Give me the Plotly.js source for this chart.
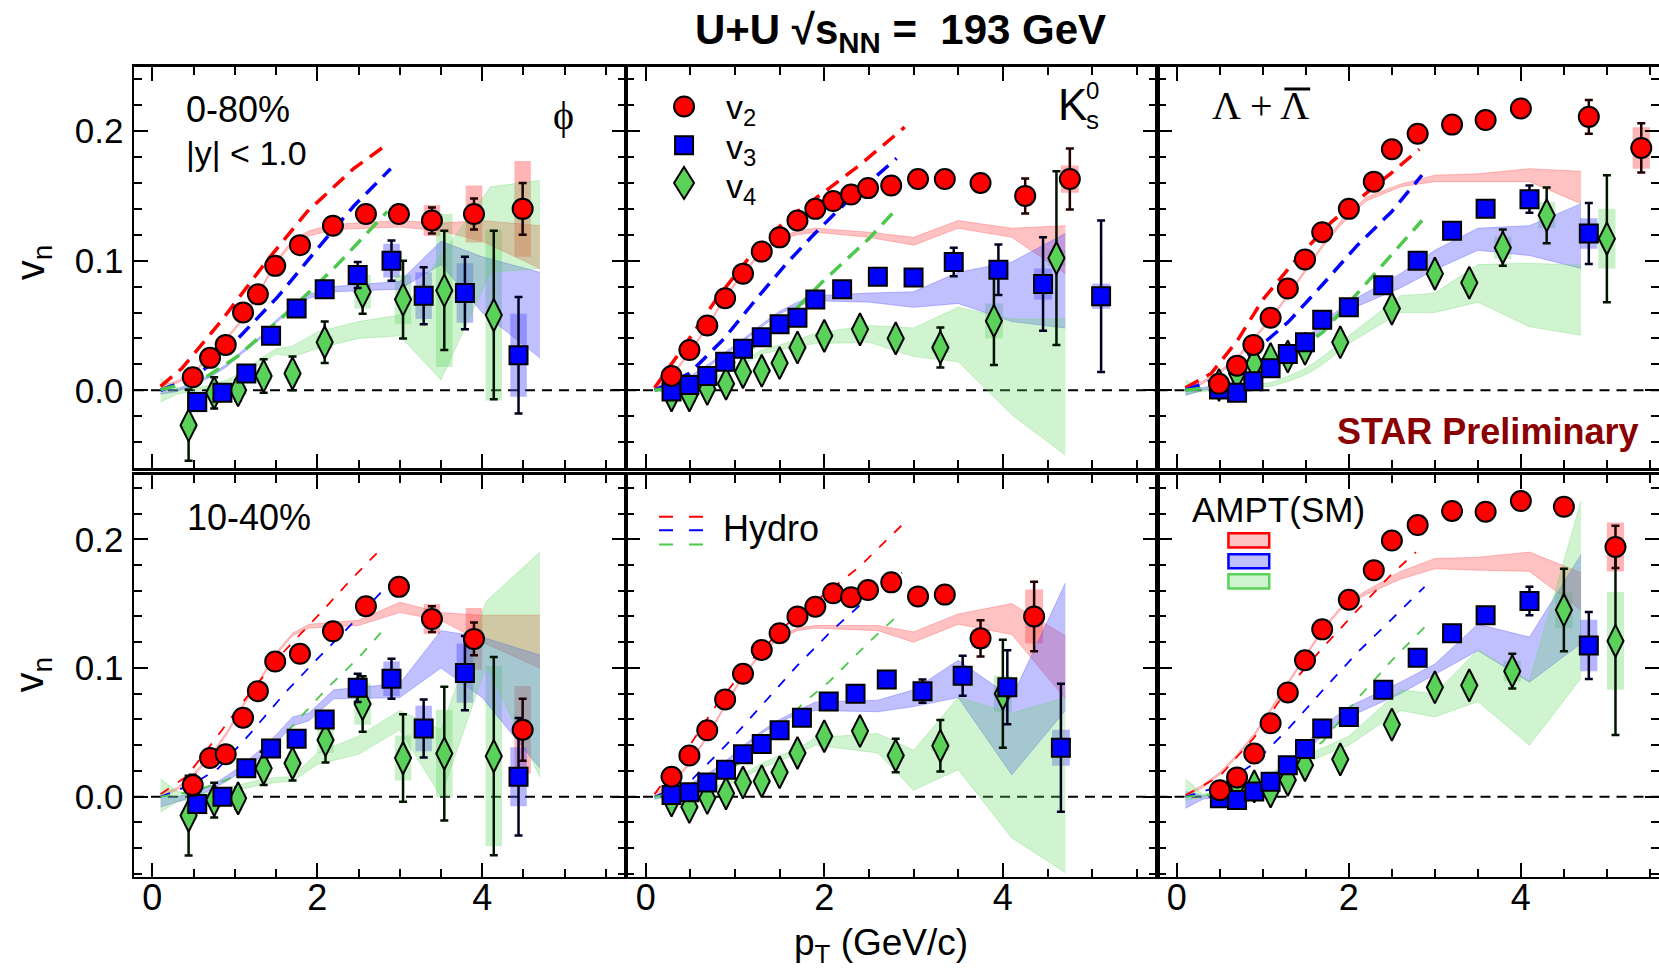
<!DOCTYPE html>
<html><head><meta charset="utf-8">
<script src="https://cdn.plot.ly/plotly-3.0.1.min.js"></script>
<style>html,body{margin:0;padding:0;background:#fff}#chart{width:1659px;height:977px}</style>
</head><body><div id="chart"></div>
<script>
// ================= DATA =================
// ---- phi, 0-80% ----
const phi080_v2_pt   = [0.49, 0.70, 0.89, 1.10, 1.28, 1.49, 1.79, 2.19, 2.59, 2.99, 3.39, 3.90, 4.49];
const phi080_v2      = [0.010, 0.025, 0.035, 0.060, 0.074, 0.096, 0.112, 0.127, 0.136, 0.136, 0.131, 0.136, 0.140];
const phi080_v2_stat = [0.003, 0.003, 0.003, 0.003, 0.003, 0.003, 0.003, 0.003, 0.004, 0.004, 0.010, 0.012, 0.020];
const phi080_v2_sys  = [0.006, 0.002, 0.002, 0.002, 0.002, 0.002, 0.002, 0.003, 0.003, 0.004, 0.012, 0.022, 0.037];
const phi080_v3_pt   = [0.545, 0.85, 1.14, 1.44, 1.75, 2.09, 2.49, 2.90, 3.29, 3.79, 4.44];
const phi080_v3      = [-0.009, -0.002, 0.013, 0.042, 0.063, 0.078, 0.089, 0.100, 0.073, 0.075, 0.027];
const phi080_v3_stat = [0.004, 0.003, 0.003, 0.003, 0.003, 0.004, 0.010, 0.0155, 0.022, 0.028, 0.045];
const phi080_v3_sys  = [0.008, 0.003, 0.003, 0.003, 0.003, 0.003, 0.006, 0.013, 0.018, 0.023, 0.032];
const phi080_v4_pt   = [0.44, 0.75, 1.04, 1.35, 1.70, 2.09, 2.55, 3.04, 3.54, 4.14];
const phi080_v4      = [-0.027, -0.002, 0.000, 0.011, 0.013, 0.037, 0.076, 0.070, 0.077, 0.058];
const phi080_v4_stat = [0.0275, 0.012, 0.008, 0.013, 0.013, 0.016, 0.017, 0.030, 0.046, 0.065];
const phi080_v4_sys  = [0.004, 0.004, 0.004, 0.004, 0.004, 0.005, 0.013, 0.019, 0.059, 0.066];
const phi080_hyd_v2_pt = [0.1, 0.36, 0.83, 1.39, 1.88, 2.44, 2.85];
const phi080_hyd_v2    = [0.003, 0.017, 0.053, 0.100, 0.138, 0.171, 0.190];
const phi080_hyd_v3_pt = [0.1, 0.5, 0.83, 1.23, 1.52, 1.96, 2.44, 2.89];
const phi080_hyd_v3    = [0.0, 0.010, 0.026, 0.053, 0.072, 0.106, 0.142, 0.171];
const phi080_hyd_v4_pt = [0.1, 0.6, 1.03, 1.64, 2.20, 2.85];
const phi080_hyd_v4    = [0.0005, 0.008, 0.026, 0.060, 0.094, 0.138];
const phi080_ampt_v2_pt = [0.1, 0.3, 0.5, 0.7, 0.9, 1.1, 1.3, 1.5, 1.7, 1.9, 2.2, 3.0, 3.5, 4.0, 4.7];
const phi080_ampt_v2_lo = [0.0018, 0.0055, 0.012, 0.026, 0.039, 0.054, 0.075, 0.098, 0.113, 0.119, 0.124, 0.126, 0.123, 0.115, 0.094];
const phi080_ampt_v2_hi = [0.0034, 0.0073, 0.014, 0.028, 0.041, 0.056, 0.077, 0.100, 0.116, 0.123, 0.128, 0.131, 0.129, 0.131, 0.127];
const phi080_ampt_v3_pt = [0.1, 0.3, 0.5, 0.7, 0.9, 1.1, 1.3, 1.5, 1.7, 1.9, 2.2, 3.0, 3.5, 4.0, 4.7];
const phi080_ampt_v3_lo = [-0.003, -0.001, 0.004, 0.010, 0.018, 0.029, 0.039, 0.052, 0.063, 0.071, 0.076, 0.078, 0.097, 0.060, 0.025];
const phi080_ampt_v3_hi = [0.000, 0.001, 0.006, 0.012, 0.020, 0.031, 0.041, 0.054, 0.065, 0.074, 0.080, 0.084, 0.115, 0.103, 0.091];
const phi080_ampt_v4_pt = [0.1, 0.3, 0.5, 0.7, 0.9, 1.1, 1.3, 1.5, 1.7, 2.0, 2.5, 3.0, 3.5, 4.1, 4.7];
const phi080_ampt_v4_lo = [-0.009, -0.003, -0.001, 0.002, 0.006, 0.010, 0.020, 0.028, 0.026, 0.032, 0.040, 0.042, 0.008, 0.091, 0.094];
const phi080_ampt_v4_hi = [0.009, 0.002, 0.001, 0.004, 0.008, 0.014, 0.024, 0.032, 0.034, 0.045, 0.053, 0.058, 0.104, 0.157, 0.162];

// ---- K0s, 0-80% ----
const k0s080_v2_pt   = [0.29, 0.49, 0.69, 0.89, 1.09, 1.30, 1.50, 1.70, 1.90, 2.10, 2.30, 2.49, 2.75, 3.05, 3.35, 3.75, 4.25, 4.75];
const k0s080_v2      = [0.011, 0.031, 0.050, 0.071, 0.090, 0.107, 0.118, 0.131, 0.140, 0.146, 0.151, 0.156, 0.158, 0.163, 0.163, 0.160, 0.150, 0.163];
const k0s080_v2_stat = [0.002, 0.002, 0.002, 0.002, 0.002, 0.002, 0.002, 0.002, 0.002, 0.002, 0.002, 0.002, 0.002, 0.002, 0.002, 0.003, 0.0135, 0.0235];
const k0s080_v2_sys  = [0.002, 0.002, 0.002, 0.002, 0.002, 0.002, 0.002, 0.002, 0.002, 0.002, 0.002, 0.002, 0.002, 0.002, 0.002, 0.003, 0.004, 0.0105];
const k0s080_v3_pt   = [0.29, 0.49, 0.69, 0.89, 1.09, 1.30, 1.50, 1.70, 1.90, 2.20, 2.60, 3.00, 3.45, 3.95, 4.45, 5.10];
const k0s080_v3      = [-0.001, 0.004, 0.011, 0.022, 0.032, 0.041, 0.051, 0.056, 0.070, 0.078, 0.0875, 0.087, 0.099, 0.093, 0.082, 0.0726];
const k0s080_v3_stat = [0.002, 0.002, 0.002, 0.002, 0.002, 0.002, 0.002, 0.002, 0.002, 0.002, 0.002, 0.003, 0.011, 0.0195, 0.036, 0.0585];
const k0s080_v3_sys  = [0.002, 0.002, 0.002, 0.002, 0.002, 0.002, 0.002, 0.002, 0.002, 0.002, 0.002, 0.002, 0.003, 0.004, 0.012, 0.0097];
const k0s080_v4_pt   = [0.29, 0.49, 0.69, 0.90, 1.09, 1.30, 1.50, 1.70, 2.00, 2.40, 2.80, 3.30, 3.90, 4.60];
const k0s080_v4      = [-0.004, -0.004, 0.001, 0.005, 0.014, 0.015, 0.021, 0.033, 0.042, 0.047, 0.040, 0.033, 0.0535, 0.102];
const k0s080_v4_stat = [0.003, 0.003, 0.003, 0.003, 0.003, 0.003, 0.003, 0.003, 0.003, 0.003, 0.004, 0.0155, 0.034, 0.067];
const k0s080_v4_sys  = [0.002, 0.002, 0.002, 0.002, 0.002, 0.002, 0.002, 0.002, 0.002, 0.002, 0.002, 0.004, 0.0135, 0.006];
const k0s080_hyd_v2_pt = [0.1, 0.4, 0.8, 1.2, 1.6, 2.0, 2.4, 2.9];
const k0s080_hyd_v2    = [0.002, 0.031, 0.071, 0.106, 0.133, 0.153, 0.174, 0.203];
const k0s080_hyd_v3_pt = [0.1, 0.49, 0.88, 1.27, 1.58, 1.88, 2.23, 2.81];
const k0s080_hyd_v3    = [0.0, 0.013, 0.040, 0.073, 0.098, 0.120, 0.144, 0.179];
const k0s080_hyd_v4_pt = [0.1, 0.5, 1.0, 1.5, 2.0, 2.5, 2.81];
const k0s080_hyd_v4    = [0.0, 0.004, 0.022, 0.050, 0.085, 0.117, 0.140];
const k0s080_ampt_pt    = [0.1, 0.3, 0.5, 0.7, 0.9, 1.1, 1.3, 1.5, 1.7, 1.9, 2.5, 3.0, 3.5, 4.1, 4.7];
const k0s080_ampt_v2_lo = [0.0005, 0.011, 0.029, 0.049, 0.072, 0.090, 0.106, 0.116, 0.120, 0.122, 0.118, 0.112, 0.125, 0.118, 0.090];
const k0s080_ampt_v2_hi = [0.002, 0.013, 0.031, 0.051, 0.074, 0.092, 0.108, 0.118, 0.123, 0.125, 0.122, 0.118, 0.131, 0.125, 0.127];
const k0s080_ampt_v3_lo = [-0.001, 0.002, 0.009, 0.018, 0.028, 0.038, 0.049, 0.059, 0.065, 0.069, 0.068, 0.064, 0.067, 0.053, 0.048];
const k0s080_ampt_v3_hi = [0.001, 0.004, 0.011, 0.020, 0.030, 0.040, 0.051, 0.061, 0.068, 0.073, 0.075, 0.076, 0.091, 0.099, 0.121];
const k0s080_ampt_v4_lo = [-0.001, 0.000, 0.002, 0.006, 0.012, 0.020, 0.028, 0.031, 0.034, 0.036, 0.037, 0.026, 0.022, -0.019, -0.050];
const k0s080_ampt_v4_hi = [0.001, 0.002, 0.004, 0.008, 0.014, 0.023, 0.031, 0.035, 0.039, 0.044, 0.050, 0.048, 0.064, 0.055, 0.055];

// ---- Lambda + anti-Lambda, 0-80% ----
const lam080_v2_pt   = [0.49, 0.70, 0.89, 1.09, 1.29, 1.49, 1.69, 2.00, 2.29, 2.50, 2.80, 3.20, 3.59, 4.00, 4.79, 5.40];
const lam080_v2      = [0.005, 0.019, 0.035, 0.056, 0.0785, 0.101, 0.122, 0.140, 0.161, 0.186, 0.198, 0.205, 0.2085, 0.2175, 0.211, 0.187];
const lam080_v2_stat = [0.002, 0.002, 0.002, 0.002, 0.002, 0.002, 0.002, 0.002, 0.002, 0.002, 0.002, 0.002, 0.002, 0.002, 0.013, 0.019];
const lam080_v2_sys  = [0.002, 0.002, 0.002, 0.002, 0.002, 0.002, 0.002, 0.002, 0.002, 0.002, 0.002, 0.002, 0.002, 0.002, 0.006, 0.016];
const lam080_v3_pt   = [0.49, 0.70, 0.89, 1.09, 1.29, 1.49, 1.69, 2.00, 2.40, 2.80, 3.20, 3.59, 4.10, 4.79];
const lam080_v3      = [0.0005, -0.002, 0.007, 0.017, 0.028, 0.037, 0.0545, 0.064, 0.081, 0.100, 0.123, 0.140, 0.1475, 0.121];
const lam080_v3_stat = [0.002, 0.002, 0.002, 0.002, 0.002, 0.002, 0.002, 0.002, 0.002, 0.002, 0.002, 0.003, 0.0105, 0.0235];
const lam080_v3_sys  = [0.002, 0.002, 0.002, 0.002, 0.002, 0.002, 0.002, 0.002, 0.002, 0.002, 0.002, 0.002, 0.004, 0.0117];
const lam080_v4_pt   = [0.49, 0.70, 0.90, 1.09, 1.29, 1.49, 1.90, 2.50, 3.00, 3.40, 3.79, 4.30, 5.00];
const lam080_v4      = [0.004, 0.013, 0.0206, 0.024, 0.026, 0.032, 0.037, 0.063, 0.090, 0.083, 0.110, 0.135, 0.117];
const lam080_v4_stat = [0.003, 0.003, 0.003, 0.003, 0.003, 0.003, 0.003, 0.003, 0.003, 0.003, 0.014, 0.0215, 0.049];
const lam080_v4_sys  = [0.002, 0.002, 0.002, 0.002, 0.002, 0.002, 0.002, 0.002, 0.002, 0.002, 0.0086, 0.010, 0.023];
const lam080_hyd_v2_pt = [0.1, 0.4, 0.7, 1.0, 1.4, 1.8, 2.2, 2.5, 2.82];
const lam080_hyd_v2    = [0.002, 0.013, 0.038, 0.070, 0.102, 0.130, 0.152, 0.168, 0.186];
const lam080_hyd_v3_pt = [0.1, 0.5, 0.9, 1.3, 1.7, 2.1, 2.5, 2.85];
const lam080_hyd_v3    = [0.0, 0.010, 0.030, 0.053, 0.082, 0.112, 0.138, 0.166];
const lam080_hyd_v4_pt = [0.1, 0.5, 0.9, 1.3, 1.7, 2.1, 2.5, 2.85];
const lam080_hyd_v4    = [0.0, 0.003, 0.012, 0.025, 0.045, 0.075, 0.105, 0.131];
const lam080_ampt_v2_pt = [0.1, 0.3, 0.5, 0.7, 0.9, 1.1, 1.3, 1.5, 1.7, 1.9, 2.2, 2.6, 3.0, 3.5, 4.1, 4.7];
const lam080_ampt_v2_lo = [0.000, 0.005, 0.013, 0.024, 0.039, 0.055, 0.073, 0.092, 0.111, 0.127, 0.146, 0.157, 0.161, 0.161, 0.161, 0.144];
const lam080_ampt_v2_hi = [0.002, 0.007, 0.015, 0.026, 0.041, 0.057, 0.075, 0.094, 0.113, 0.130, 0.149, 0.159, 0.166, 0.167, 0.171, 0.169];
const lam080_ampt_pt    = [0.1, 0.3, 0.5, 0.7, 0.9, 1.1, 1.3, 1.5, 1.7, 2.0, 2.6, 3.0, 3.5, 4.1, 4.7];
const lam080_ampt_v3_lo = [-0.004, 0.000, 0.002, 0.006, 0.011, 0.017, 0.025, 0.034, 0.048, 0.062, 0.079, 0.093, 0.108, 0.104, 0.094];
const lam080_ampt_v3_hi = [0.002, 0.002, 0.004, 0.008, 0.013, 0.020, 0.029, 0.040, 0.053, 0.068, 0.090, 0.108, 0.125, 0.127, 0.144];
const lam080_ampt_v4_lo = [-0.003, -0.001, 0.000, 0.001, 0.002, 0.003, 0.007, 0.012, 0.020, 0.036, 0.060, 0.060, 0.068, 0.049, 0.0425];
const lam080_ampt_v4_hi = [0.008, 0.001, 0.002, 0.003, 0.004, 0.006, 0.011, 0.017, 0.026, 0.042, 0.073, 0.075, 0.097, 0.098, 0.0965];

// ---- phi, 10-40% ----
const phi1040_v2_pt   = [0.49, 0.70, 0.89, 1.10, 1.28, 1.49, 1.79, 2.19, 2.59, 2.99, 3.39, 3.90, 4.49];
const phi1040_v2      = [0.009, 0.030, 0.033, 0.0614, 0.082, 0.105, 0.111, 0.1285, 0.148, 0.163, 0.138, 0.1226, 0.052];
const phi1040_v2_stat = [0.008, 0.003, 0.003, 0.003, 0.003, 0.003, 0.003, 0.003, 0.003, 0.004, 0.010, 0.0127, 0.024];
const phi1040_v2_sys  = [0.004, 0.002, 0.002, 0.002, 0.002, 0.002, 0.002, 0.002, 0.003, 0.003, 0.0116, 0.024, 0.034];
const phi1040_v3_pt   = [0.545, 0.85, 1.14, 1.44, 1.75, 2.09, 2.49, 2.90, 3.29, 3.79, 4.44];
const phi1040_v3      = [-0.0057, 0.0, 0.022, 0.0374, 0.045, 0.060, 0.0846, 0.0916, 0.053, 0.096, 0.0155];
const phi1040_v3_stat = [0.004, 0.003, 0.003, 0.003, 0.003, 0.003, 0.011, 0.0155, 0.0226, 0.0288, 0.0457];
const phi1040_v3_sys  = [0.008, 0.003, 0.003, 0.003, 0.003, 0.003, 0.005, 0.0135, 0.0177, 0.023, 0.023];
const phi1040_v4_pt   = [0.44, 0.75, 1.04, 1.35, 1.70, 2.10, 2.55, 3.04, 3.54, 4.14];
const phi1040_v4      = [-0.0147, -0.0026, -0.0013, 0.022, 0.026, 0.044, 0.072, 0.030, 0.0335, 0.0315];
const phi1040_v4_stat = [0.031, 0.0135, 0.008, 0.013, 0.0135, 0.0175, 0.0215, 0.034, 0.052, 0.077];
const phi1040_v4_sys  = [0.004, 0.004, 0.004, 0.004, 0.004, 0.010, 0.016, 0.0175, 0.034, 0.070];
const phi1040_hyd_v2_pt = [0.1, 0.42, 0.8, 1.2, 1.6, 2.0, 2.4, 2.81];
const phi1040_hyd_v2    = [0.002, 0.016, 0.048, 0.082, 0.113, 0.140, 0.168, 0.195];
const phi1040_hyd_v3_pt = [0.1, 0.5, 0.8, 1.2, 1.6, 2.0, 2.4, 2.79];
const phi1040_hyd_v3    = [0.0, 0.010, 0.022, 0.050, 0.080, 0.107, 0.133, 0.160];
const phi1040_hyd_v4_pt = [0.1, 0.5, 0.9, 1.3, 1.7, 2.1, 2.5, 2.85];
const phi1040_hyd_v4    = [0.0, 0.004, 0.013, 0.028, 0.055, 0.083, 0.108, 0.133];
const phi1040_ampt_v2_pt = [0.1, 0.3, 0.5, 0.7, 0.9, 1.1, 1.3, 1.5, 1.7, 1.9, 2.5, 3.0, 3.5, 4.0, 4.7];
const phi1040_ampt_v2_lo = [0.000, 0.005, 0.016, 0.030, 0.048, 0.070, 0.089, 0.110, 0.125, 0.131, 0.133, 0.143, 0.137, 0.120, 0.100];
const phi1040_ampt_v2_hi = [0.002, 0.007, 0.018, 0.032, 0.050, 0.072, 0.091, 0.112, 0.127, 0.134, 0.137, 0.151, 0.143, 0.141, 0.141];
const phi1040_ampt_v3_pt = [0.1, 0.3, 0.5, 0.7, 0.9, 1.1, 1.3, 1.5, 1.7, 1.9, 2.2, 3.0, 3.5, 4.0, 4.7];
const phi1040_ampt_v3_lo = [-0.008, -0.004, 0.000, 0.005, 0.012, 0.020, 0.030, 0.042, 0.055, 0.059, 0.076, 0.077, 0.100, 0.077, 0.022];
const phi1040_ampt_v3_hi = [0.000, 0.000, 0.003, 0.008, 0.016, 0.025, 0.036, 0.048, 0.062, 0.065, 0.083, 0.088, 0.129, 0.124, 0.110];
const phi1040_ampt_v4_pt = [0.1, 0.3, 0.5, 0.7, 0.9, 1.1, 1.3, 1.5, 1.7, 2.0, 2.5, 3.0, 3.5, 4.05, 4.7];
const phi1040_ampt_v4_lo = [-0.012, -0.004, -0.002, 0.000, 0.003, 0.006, 0.009, 0.011, 0.012, 0.025, 0.033, 0.052, 0.000, 0.102, 0.015];
const phi1040_ampt_v4_hi = [0.014, 0.004, 0.002, 0.004, 0.007, 0.010, 0.013, 0.015, 0.0155, 0.034, 0.047, 0.067, 0.052, 0.152, 0.190];

// ---- K0s, 10-40% ----
const k0s1040_v2_pt   = [0.29, 0.49, 0.69, 0.89, 1.09, 1.30, 1.50, 1.70, 1.90, 2.10, 2.30, 2.49, 2.75, 3.05, 3.35, 3.75, 4.35];
const k0s1040_v2      = [0.0155, 0.032, 0.0516, 0.0756, 0.0955, 0.114, 0.127, 0.140, 0.1476, 0.158, 0.155, 0.1605, 0.1665, 0.1556, 0.157, 0.123, 0.140];
const k0s1040_v2_stat = [0.002, 0.002, 0.002, 0.002, 0.002, 0.002, 0.002, 0.002, 0.002, 0.002, 0.002, 0.002, 0.002, 0.002, 0.005, 0.014, 0.027];
const k0s1040_v2_sys  = [0.002, 0.002, 0.002, 0.002, 0.002, 0.002, 0.002, 0.002, 0.002, 0.002, 0.002, 0.002, 0.002, 0.002, 0.003, 0.007, 0.021];
const k0s1040_v3_pt   = [0.29, 0.49, 0.69, 0.90, 1.09, 1.30, 1.50, 1.75, 2.05, 2.35, 2.70, 3.10, 3.55, 4.05, 4.65];
const k0s1040_v3      = [0.0013, 0.0034, 0.011, 0.021, 0.033, 0.041, 0.0516, 0.0614, 0.074, 0.080, 0.091, 0.082, 0.094, 0.085, 0.038];
const k0s1040_v3_stat = [0.002, 0.002, 0.002, 0.002, 0.002, 0.002, 0.002, 0.002, 0.002, 0.002, 0.003, 0.009, 0.0155, 0.0288, 0.0497];
const k0s1040_v3_sys  = [0.002, 0.002, 0.002, 0.002, 0.002, 0.002, 0.002, 0.002, 0.002, 0.002, 0.002, 0.002, 0.003, 0.004, 0.014];
const k0s1040_v4_pt   = [0.29, 0.49, 0.69, 0.90, 1.09, 1.30, 1.50, 1.70, 2.00, 2.40, 2.80, 3.30, 4.00];
const k0s1040_v4      = [-0.003, -0.008, -0.001, 0.0026, 0.011, 0.012, 0.019, 0.034, 0.047, 0.051, 0.032, 0.0395, 0.080];
const k0s1040_v4_stat = [0.003, 0.003, 0.003, 0.003, 0.003, 0.003, 0.003, 0.003, 0.003, 0.003, 0.013, 0.020, 0.042];
const k0s1040_v4_sys  = [0.002, 0.002, 0.002, 0.002, 0.002, 0.002, 0.002, 0.002, 0.002, 0.002, 0.003, 0.004, 0.014];
const k0s1040_hyd_v2_pt = [0.1, 0.4, 0.8, 1.2, 1.6, 2.0, 2.4, 2.87];
const k0s1040_hyd_v2    = [0.002, 0.030, 0.072, 0.107, 0.135, 0.157, 0.179, 0.211];
const k0s1040_hyd_v3_pt = [0.1, 0.5, 0.9, 1.3, 1.7, 2.1, 2.5, 2.87];
const k0s1040_hyd_v3    = [0.0, 0.012, 0.040, 0.071, 0.102, 0.130, 0.155, 0.174];
const k0s1040_hyd_v4_pt = [0.1, 0.5, 0.9, 1.3, 1.77, 2.05, 2.5, 2.81];
const k0s1040_hyd_v4    = [0.0, 0.005, 0.018, 0.040, 0.073, 0.089, 0.120, 0.140];
const k0s1040_ampt_pt    = [0.1, 0.3, 0.5, 0.7, 0.9, 1.1, 1.3, 1.5, 1.7, 1.9, 2.6, 3.0, 3.5, 4.1, 4.7];
const k0s1040_ampt_v2_lo = [0.000, 0.009, 0.026, 0.047, 0.071, 0.094, 0.111, 0.123, 0.129, 0.131, 0.129, 0.120, 0.134, 0.126, 0.076];
const k0s1040_ampt_v2_hi = [0.002, 0.011, 0.028, 0.049, 0.073, 0.096, 0.113, 0.125, 0.131, 0.133, 0.133, 0.128, 0.142, 0.150, 0.125];
const k0s1040_ampt_v3_lo = [-0.002, 0.002, 0.008, 0.016, 0.026, 0.038, 0.049, 0.058, 0.064, 0.067, 0.066, 0.070, 0.077, 0.017, 0.067];
const k0s1040_ampt_v3_hi = [0.000, 0.004, 0.010, 0.018, 0.028, 0.040, 0.051, 0.060, 0.067, 0.0735, 0.075, 0.083, 0.106, 0.077, 0.166];
const k0s1040_ampt_v4_lo = [-0.002, -0.001, 0.001, 0.004, 0.008, 0.015, 0.022, 0.028, 0.033, 0.040, 0.034, 0.005, 0.021, -0.032, -0.059];
const k0s1040_ampt_v4_hi = [0.000, 0.001, 0.003, 0.006, 0.011, 0.018, 0.026, 0.032, 0.037, 0.046, 0.049, 0.036, 0.077, 0.065, 0.077];

// ---- Lambda + anti-Lambda, 10-40% ----
const lam1040_v2_pt   = [0.50, 0.70, 0.90, 1.09, 1.29, 1.49, 1.69, 2.00, 2.29, 2.50, 2.80, 3.20, 3.59, 4.00, 4.50, 5.10];
const lam1040_v2      = [0.005, 0.015, 0.0335, 0.057, 0.081, 0.106, 0.130, 0.153, 0.176, 0.199, 0.211, 0.222, 0.2214, 0.2297, 0.2253, 0.194];
const lam1040_v2_stat = [0.002, 0.002, 0.002, 0.002, 0.002, 0.002, 0.002, 0.002, 0.002, 0.002, 0.002, 0.002, 0.002, 0.002, 0.003, 0.0164];
const lam1040_v2_sys  = [0.002, 0.002, 0.002, 0.002, 0.002, 0.002, 0.002, 0.002, 0.002, 0.002, 0.002, 0.002, 0.002, 0.002, 0.007, 0.019];
const lam1040_v3_pt   = [0.50, 0.70, 0.90, 1.09, 1.29, 1.49, 1.69, 2.00, 2.40, 2.80, 3.20, 3.59, 4.10, 4.79];
const lam1040_v3      = [-0.0013, -0.0026, 0.004, 0.0116, 0.0245, 0.037, 0.053, 0.062, 0.083, 0.108, 0.127, 0.141, 0.152, 0.1174];
const lam1040_v3_stat = [0.002, 0.002, 0.002, 0.002, 0.002, 0.002, 0.002, 0.002, 0.002, 0.002, 0.002, 0.003, 0.011, 0.026];
const lam1040_v3_sys  = [0.002, 0.002, 0.002, 0.002, 0.002, 0.002, 0.002, 0.002, 0.002, 0.002, 0.002, 0.002, 0.002, 0.020];
const lam1040_v4_pt   = [0.70, 0.90, 1.09, 1.29, 1.49, 1.90, 2.50, 3.00, 3.40, 3.90, 4.50, 5.10];
const lam1040_v4      = [0.010, 0.008, 0.004, 0.013, 0.0245, 0.029, 0.056, 0.085, 0.0865, 0.0975, 0.145, 0.121];
const lam1040_v4_stat = [0.003, 0.003, 0.003, 0.003, 0.003, 0.003, 0.003, 0.003, 0.003, 0.0135, 0.032, 0.073];
const lam1040_v4_sys  = [0.002, 0.002, 0.002, 0.002, 0.002, 0.002, 0.002, 0.002, 0.002, 0.008, 0.014, 0.038];
const lam1040_hyd_v2_pt = [0.1, 0.5, 0.9, 1.3, 1.7, 2.1, 2.5, 2.78];
const lam1040_hyd_v2    = [0.001, 0.016, 0.046, 0.085, 0.116, 0.145, 0.173, 0.190];
const lam1040_hyd_v3_pt = [0.1, 0.5, 0.9, 1.3, 1.7, 2.1, 2.5, 2.88];
const lam1040_hyd_v3    = [0.0, 0.008, 0.026, 0.053, 0.083, 0.112, 0.138, 0.163];
const lam1040_hyd_v4_pt = [0.1, 0.5, 0.9, 1.3, 1.7, 2.1, 2.5, 2.9];
const lam1040_hyd_v4    = [0.0, 0.002, 0.010, 0.024, 0.043, 0.076, 0.106, 0.133];
const lam1040_ampt_v2_pt = [0.1, 0.3, 0.5, 0.7, 0.9, 1.1, 1.3, 1.5, 1.7, 1.9, 2.2, 2.6, 3.0, 3.5, 4.1, 4.7];
const lam1040_ampt_v2_lo = [0.000, 0.007, 0.017, 0.031, 0.047, 0.067, 0.088, 0.109, 0.129, 0.145, 0.157, 0.169, 0.177, 0.176, 0.175, 0.145];
const lam1040_ampt_v2_hi = [0.002, 0.009, 0.019, 0.033, 0.049, 0.069, 0.090, 0.111, 0.131, 0.147, 0.160, 0.175, 0.185, 0.186, 0.190, 0.174];
const lam1040_ampt_pt    = [0.1, 0.3, 0.5, 0.7, 0.9, 1.1, 1.3, 1.5, 1.7, 2.0, 2.6, 3.0, 3.5, 4.1, 4.7];
const lam1040_ampt_v3_lo = [-0.009, -0.002, 0.000, 0.002, 0.006, 0.012, 0.022, 0.035, 0.048, 0.062, 0.080, 0.095, 0.1135, 0.089, 0.119];
const lam1040_ampt_v3_hi = [0.004, 0.001, 0.002, 0.004, 0.009, 0.016, 0.027, 0.041, 0.055, 0.070, 0.089, 0.103, 0.134, 0.124, 0.188];
const lam1040_ampt_v4_lo = [-0.003, 0.000, 0.002, 0.004, 0.008, 0.014, 0.019, 0.026, 0.032, 0.040, 0.067, 0.062, 0.074, 0.040, 0.092];
const lam1040_ampt_v4_hi = [0.014, 0.002, 0.004, 0.007, 0.012, 0.019, 0.025, 0.032, 0.038, 0.047, 0.083, 0.080, 0.114, 0.090, 0.230];

// ================= STYLE / LAYOUT =================
const FONT = 'Liberation Sans, Arial, Helvetica, sans-serif';
const SERIF = 'Liberation Serif, Times New Roman, serif';
const MCOL = {v2: '#ff0000', v3: '#0000ff', v4: '#5ad25a'};
const BAND = {v2: 'rgba(255,70,70,0.33)', v3: 'rgba(80,80,255,0.36)', v4: 'rgba(100,215,100,0.30)'};
const SYSC = {v2: 'rgba(255,70,70,0.40)', v3: 'rgba(80,80,255,0.42)', v4: 'rgba(100,215,100,0.36)'};
const HYD = {v2: '#ff0000', v3: '#0000ff', v4: '#4cc84c'};
const SYM = {v2: ['circle', 20], v3: ['square', 18], v4: ['diamond-tall', 23]};
const ERRC = {v2: '#200000', v3: '#000020', v4: '#001400'};

const panels = [
  {data: {v2: [phi080_v2_pt, phi080_v2, phi080_v2_stat, phi080_v2_sys], v3: [phi080_v3_pt, phi080_v3, phi080_v3_stat, phi080_v3_sys], v4: [phi080_v4_pt, phi080_v4, phi080_v4_stat, phi080_v4_sys]},
   hydro: {v2: [phi080_hyd_v2_pt, phi080_hyd_v2], v3: [phi080_hyd_v3_pt, phi080_hyd_v3], v4: [phi080_hyd_v4_pt, phi080_hyd_v4]},
   ampt: {v2: [phi080_ampt_v2_pt, phi080_ampt_v2_lo, phi080_ampt_v2_hi], v3: [phi080_ampt_v3_pt, phi080_ampt_v3_lo, phi080_ampt_v3_hi], v4: [phi080_ampt_v4_pt, phi080_ampt_v4_lo, phi080_ampt_v4_hi]}},
  {data: {v2: [k0s080_v2_pt, k0s080_v2, k0s080_v2_stat, k0s080_v2_sys], v3: [k0s080_v3_pt, k0s080_v3, k0s080_v3_stat, k0s080_v3_sys], v4: [k0s080_v4_pt, k0s080_v4, k0s080_v4_stat, k0s080_v4_sys]},
   hydro: {v2: [k0s080_hyd_v2_pt, k0s080_hyd_v2], v3: [k0s080_hyd_v3_pt, k0s080_hyd_v3], v4: [k0s080_hyd_v4_pt, k0s080_hyd_v4]},
   ampt: {v2: [k0s080_ampt_pt, k0s080_ampt_v2_lo, k0s080_ampt_v2_hi], v3: [k0s080_ampt_pt, k0s080_ampt_v3_lo, k0s080_ampt_v3_hi], v4: [k0s080_ampt_pt, k0s080_ampt_v4_lo, k0s080_ampt_v4_hi]}},
  {data: {v2: [lam080_v2_pt, lam080_v2, lam080_v2_stat, lam080_v2_sys], v3: [lam080_v3_pt, lam080_v3, lam080_v3_stat, lam080_v3_sys], v4: [lam080_v4_pt, lam080_v4, lam080_v4_stat, lam080_v4_sys]},
   hydro: {v2: [lam080_hyd_v2_pt, lam080_hyd_v2], v3: [lam080_hyd_v3_pt, lam080_hyd_v3], v4: [lam080_hyd_v4_pt, lam080_hyd_v4]},
   ampt: {v2: [lam080_ampt_v2_pt, lam080_ampt_v2_lo, lam080_ampt_v2_hi], v3: [lam080_ampt_pt, lam080_ampt_v3_lo, lam080_ampt_v3_hi], v4: [lam080_ampt_pt, lam080_ampt_v4_lo, lam080_ampt_v4_hi]}},
  {data: {v2: [phi1040_v2_pt, phi1040_v2, phi1040_v2_stat, phi1040_v2_sys], v3: [phi1040_v3_pt, phi1040_v3, phi1040_v3_stat, phi1040_v3_sys], v4: [phi1040_v4_pt, phi1040_v4, phi1040_v4_stat, phi1040_v4_sys]},
   hydro: {v2: [phi1040_hyd_v2_pt, phi1040_hyd_v2], v3: [phi1040_hyd_v3_pt, phi1040_hyd_v3], v4: [phi1040_hyd_v4_pt, phi1040_hyd_v4]},
   ampt: {v2: [phi1040_ampt_v2_pt, phi1040_ampt_v2_lo, phi1040_ampt_v2_hi], v3: [phi1040_ampt_v3_pt, phi1040_ampt_v3_lo, phi1040_ampt_v3_hi], v4: [phi1040_ampt_v4_pt, phi1040_ampt_v4_lo, phi1040_ampt_v4_hi]}},
  {data: {v2: [k0s1040_v2_pt, k0s1040_v2, k0s1040_v2_stat, k0s1040_v2_sys], v3: [k0s1040_v3_pt, k0s1040_v3, k0s1040_v3_stat, k0s1040_v3_sys], v4: [k0s1040_v4_pt, k0s1040_v4, k0s1040_v4_stat, k0s1040_v4_sys]},
   hydro: {v2: [k0s1040_hyd_v2_pt, k0s1040_hyd_v2], v3: [k0s1040_hyd_v3_pt, k0s1040_hyd_v3], v4: [k0s1040_hyd_v4_pt, k0s1040_hyd_v4]},
   ampt: {v2: [k0s1040_ampt_pt, k0s1040_ampt_v2_lo, k0s1040_ampt_v2_hi], v3: [k0s1040_ampt_pt, k0s1040_ampt_v3_lo, k0s1040_ampt_v3_hi], v4: [k0s1040_ampt_pt, k0s1040_ampt_v4_lo, k0s1040_ampt_v4_hi]}},
  {data: {v2: [lam1040_v2_pt, lam1040_v2, lam1040_v2_stat, lam1040_v2_sys], v3: [lam1040_v3_pt, lam1040_v3, lam1040_v3_stat, lam1040_v3_sys], v4: [lam1040_v4_pt, lam1040_v4, lam1040_v4_stat, lam1040_v4_sys]},
   hydro: {v2: [lam1040_hyd_v2_pt, lam1040_hyd_v2], v3: [lam1040_hyd_v3_pt, lam1040_hyd_v3], v4: [lam1040_hyd_v4_pt, lam1040_hyd_v4]},
   ampt: {v2: [lam1040_ampt_v2_pt, lam1040_ampt_v2_lo, lam1040_ampt_v2_hi], v3: [lam1040_ampt_pt, lam1040_ampt_v3_lo, lam1040_ampt_v3_hi], v4: [lam1040_ampt_pt, lam1040_ampt_v4_lo, lam1040_ampt_v4_hi]}}
];

// panel frames in page pixels and axis ranges
const W = 1659, H = 977;
const COLS = [{px: [134, 625.5], range: [-0.222, 5.737]}, {px: [626, 1157], range: [-0.22, 5.726]}, {px: [1157.5, 1659], range: [-0.225, 5.606]}];
const ROWS = [{px: [66.7, 468], range: [-0.060, 0.2497]}, {px: [474.5, 876.5], range: [-0.062, 0.2503]}];

const traces = [];
const layout = {
  width: W, height: H, margin: {l: 0, r: 0, t: 0, b: 0},
  paper_bgcolor: 'white', plot_bgcolor: 'rgba(0,0,0,0)',
  showlegend: false, barmode: 'overlay', hovermode: false,
  font: {family: FONT, color: 'black'},
  shapes: [], annotations: []
};
const H3 = ['v2', 'v3', 'v4'];

panels.forEach((P, i) => {
  const n = i + 1, sfx = n === 1 ? '' : String(n);
  const xa = 'x' + sfx, ya = 'y' + sfx;
  const row = i < 3 ? 0 : 1, col = i % 3, thick = row === 0;
  const C = COLS[col], R = ROWS[row];
  const common = {
    showline: true, linecolor: 'black', linewidth: 2.5, mirror: 'ticks',
    ticks: 'inside', ticklen: 14, tickwidth: 2, tickcolor: 'black',
    showgrid: false, zeroline: false, fixedrange: true
  };
  layout['xaxis' + sfx] = Object.assign({}, common, {
    domain: [C.px[0] / W, C.px[1] / W], range: C.range, anchor: ya,
    tickmode: 'linear', tick0: 0, dtick: 2, tickformat: 'd',
    tickfont: {size: 36, family: FONT, color: 'black'},
    minor: {dtick: 0.5, ticklen: 8, tickwidth: 2, tickcolor: 'black', ticks: 'inside', showgrid: false},
    showticklabels: row === 1, ticklabelstandoff: -12
  });
  layout['yaxis' + sfx] = Object.assign({}, common, {
    domain: [1 - R.px[1] / H, 1 - R.px[0] / H], range: R.range, anchor: xa,
    tickmode: 'linear', tick0: 0, dtick: 0.1, tickformat: '.1f',
    tickfont: {size: 35, family: FONT, color: 'black'},
    minor: {dtick: 0.02, ticklen: 8, tickwidth: 2, tickcolor: 'black', ticks: 'inside', showgrid: false},
    showticklabels: col === 0, ticklabelstandoff: 1
  });
  // zero line
  layout.shapes.push({type: 'line', xref: xa + ' domain', yref: ya, x0: 0, x1: 1, y0: 0, y1: 0,
    line: {color: 'black', width: 2, dash: '10px,7px'}, layer: 'below'});
  // AMPT bands
  H3.forEach(h => {
    const [x, lo, hi] = P.ampt[h];
    traces.push({type: 'scatter', mode: 'lines', x: x, y: lo, xaxis: xa, yaxis: ya,
      line: {color: BAND[h], width: 1}, hoverinfo: 'skip'});
    traces.push({type: 'scatter', mode: 'lines', x: x, y: hi, xaxis: xa, yaxis: ya,
      line: {color: BAND[h], width: 1}, fill: 'tonexty', fillcolor: BAND[h], hoverinfo: 'skip'});
  });
  // systematic boxes
  H3.forEach(h => {
    const [pt, v, st, sy] = P.data[h];
    traces.push({type: 'bar', x: pt, y: sy.map(s => 2 * s), base: v.map((y, k) => y - sy[k]),
      width: 0.2, xaxis: xa, yaxis: ya, marker: {color: SYSC[h], line: {width: 0}}, hoverinfo: 'skip'});
  });
  // hydro
  H3.forEach(h => {
    const [x, y] = P.hydro[h];
    traces.push({type: 'scatter', mode: 'lines', x: x, y: y, xaxis: xa, yaxis: ya,
      line: {color: HYD[h], width: thick ? 3.5 : 1.8, dash: thick ? '15px,9px' : '10px,11px'}, hoverinfo: 'skip'});
  });
  // data points
  ['v4', 'v3', 'v2'].forEach(h => {
    const [pt, v, st] = P.data[h];
    traces.push({type: 'scatter', mode: 'markers', x: pt, y: v, xaxis: xa, yaxis: ya,
      error_y: {type: 'data', array: st, visible: true, color: ERRC[h], thickness: 2.5, width: 4},
      marker: {symbol: SYM[h][0], size: SYM[h][1], color: MCOL[h], line: {color: 'black', width: 2}},
      hoverinfo: 'skip'});
  });
});

// ---------- text & keys ----------
const A = layout.annotations, S = layout.shapes;
function ann(o) { A.push(Object.assign({showarrow: false, font: {family: FONT, size: 36, color: 'black'}}, o)); }
ann({xref: 'paper', yref: 'paper', x: 0.543, y: 0.967, xanchor: 'center', yanchor: 'middle',
  text: '<b>U+U √s<sub>NN</sub> =\u00a0 193 GeV</b>', font: {family: FONT, size: 42, color: 'black'}});
ann({xref: 'paper', yref: 'paper', x: 0.531, y: 0.033, xanchor: 'center', yanchor: 'middle',
  text: 'p<sub>T</sub> (GeV/c)', font: {family: FONT, size: 37, color: 'black'}});
ann({xref: 'paper', yref: 'paper', x: 0.0195, y: 0.732, xanchor: 'center', yanchor: 'middle', textangle: -90,
  text: 'v<sub>n</sub>', font: {family: FONT, size: 40, color: 'black'}});
ann({xref: 'paper', yref: 'paper', x: 0.0195, y: 0.310, xanchor: 'center', yanchor: 'middle', textangle: -90,
  text: 'v<sub>n</sub>', font: {family: FONT, size: 40, color: 'black'}});
// panel 1
ann({xref: 'x', yref: 'y', x: 0.38, y: 0.217, xanchor: 'left', yanchor: 'middle', text: '0-80%'});
ann({xref: 'x', yref: 'y', x: 0.38, y: 0.183, xanchor: 'left', yanchor: 'middle', text: '|y| < 1.0', font: {family: FONT, size: 34, color: 'black'}});
ann({xref: 'x', yref: 'y', x: 4.98, y: 0.212, xanchor: 'center', yanchor: 'middle', text: 'ϕ', font: {family: SERIF, size: 40, color: 'black'}});
// panel 2: marker legend + K0s
S.push({type: 'circle', xref: 'x2', yref: 'y2', xsizemode: 'pixel', ysizemode: 'pixel', xanchor: 0.43, yanchor: 0.219,
  x0: -10, x1: 10, y0: -10, y1: 10, fillcolor: MCOL.v2, line: {color: 'black', width: 2}});
S.push({type: 'rect', xref: 'x2', yref: 'y2', xsizemode: 'pixel', ysizemode: 'pixel', xanchor: 0.43, yanchor: 0.189,
  x0: -9, x1: 9, y0: -9, y1: 9, fillcolor: MCOL.v3, line: {color: 'black', width: 2}});
S.push({type: 'path', xref: 'x2', yref: 'y2', xsizemode: 'pixel', ysizemode: 'pixel', xanchor: 0.43, yanchor: 0.160,
  path: 'M0,16 L10,0 L0,-16 L-10,0 Z', fillcolor: MCOL.v4, line: {color: 'black', width: 2}});
ann({xref: 'x2', yref: 'y2', x: 0.88, y: 0.2165, xanchor: 'left', yanchor: 'middle', text: 'v<sub>2</sub>', font: {family: FONT, size: 34, color: 'black'}});
ann({xref: 'x2', yref: 'y2', x: 0.88, y: 0.1860, xanchor: 'left', yanchor: 'middle', text: 'v<sub>3</sub>', font: {family: FONT, size: 34, color: 'black'}});
ann({xref: 'x2', yref: 'y2', x: 0.88, y: 0.1555, xanchor: 'left', yanchor: 'middle', text: 'v<sub>4</sub>', font: {family: FONT, size: 34, color: 'black'}});
ann({xref: 'x2', yref: 'y2', x: 4.78, y: 0.2206, xanchor: 'center', yanchor: 'middle', text: 'K', font: {family: FONT, size: 44, color: 'black'}});
ann({xref: 'x2', yref: 'y2', x: 5.0, y: 0.231, xanchor: 'center', yanchor: 'middle', text: '0', font: {family: FONT, size: 24, color: 'black'}});
ann({xref: 'x2', yref: 'y2', x: 5.0, y: 0.2085, xanchor: 'center', yanchor: 'middle', text: 's', font: {family: FONT, size: 26, color: 'black'}});
// panel 3
ann({xref: 'x3', yref: 'y3', x: 0.97, y: 0.220, xanchor: 'center', yanchor: 'middle', text: 'Λ + Λ', font: {family: SERIF, size: 40, color: 'black'}});
S.push({type: 'line', xref: 'x3', yref: 'y3', x0: 1.25, x1: 1.55, y0: 0.2325, y1: 0.2325, line: {color: 'black', width: 3}});
ann({xref: 'x3', yref: 'y3', x: 3.61, y: -0.032, xanchor: 'center', yanchor: 'middle', text: '<b>STAR Preliminary</b>', font: {family: FONT, size: 36, color: '#8b0000'}});
// panel 4
ann({xref: 'x4', yref: 'y4', x: 0.40, y: 0.217, xanchor: 'left', yanchor: 'middle', text: '10-40%'});
// panel 5: hydro key
[['v2', 0.2175], ['v3', 0.207], ['v4', 0.196]].forEach(([h, y]) => {
  S.push({type: 'line', xref: 'x5', yref: 'y5', x0: 0.15, x1: 0.65, y0: y, y1: y, line: {color: HYD[h], width: 2, dash: '14px,16px'}});
});
ann({xref: 'x5', yref: 'y5', x: 0.84, y: 0.2085, xanchor: 'left', yanchor: 'middle', text: 'Hydro'});
// panel 6: AMPT key
ann({xref: 'x6', yref: 'y6', x: 0.155, y: 0.223, xanchor: 'left', yanchor: 'middle', text: 'AMPT(SM)', font: {family: FONT, size: 35, color: 'black'}});
[['v2', 0.1935, 0.2046], ['v3', 0.1774, 0.1884], ['v4', 0.1618, 0.1729]].forEach(([h, y0, y1]) => {
  S.push({type: 'rect', xref: 'x6', yref: 'y6', x0: 0.60, x1: 1.074, y0: y0, y1: y1, fillcolor: BAND[h], line: {color: MCOL[h], width: 2.5}});
});

Plotly.newPlot('chart', traces, layout, {staticPlot: true, displayModeBar: false});
</script></body></html>
